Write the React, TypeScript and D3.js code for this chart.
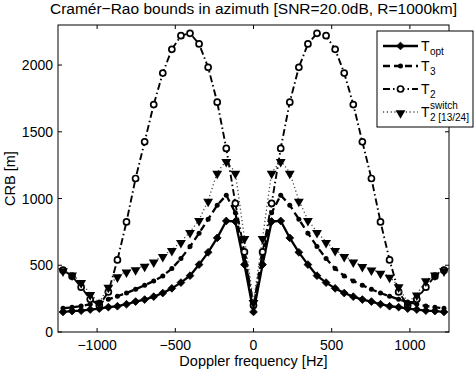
import React from "react";
import * as d3 from "d3";

// Doppler frequencies of the samples [Hz]
const freqs = [
  -1218, -1160, -1102, -1044, -986, -928, -870, -812, -754, -696, -638,
  -580, -522, -464, -406, -348, -290, -232, -174, -116, -58, 0,
  58, 116, 174, 232, 290, 348, 406, 464, 522, 580, 638,
  696, 754, 812, 870, 928, 986, 1044, 1102, 1160, 1218,
];

const tOpt = [
  150, 157, 160, 168, 175, 186, 193, 208, 228, 243, 265,
  292, 327, 370, 422, 505, 597, 705, 832, 828, 505, 150,
  505, 828, 832, 705, 597, 505, 422, 370, 327, 292, 265,
  243, 228, 208, 193, 186, 175, 168, 160, 157, 150,
];

const t3 = [
  178, 185, 195, 208, 225, 245, 268, 292, 320, 350, 382,
  420, 475, 550, 640, 740, 845, 950, 1025, 893, 560, 190,
  560, 893, 1025, 950, 845, 740, 640, 550, 475, 420, 382,
  350, 320, 292, 268, 245, 225, 208, 195, 185, 178,
];

const t2 = [
  463, 418, 336, 245, 200, 300, 540, 825, 1150, 1425, 1704,
  1940, 2118, 2220, 2238, 2158, 1983, 1722, 1375, 963, 600, 200,
  600, 963, 1375, 1722, 1983, 2158, 2238, 2220, 2118, 1940, 1704,
  1425, 1150, 825, 540, 300, 200, 245, 336, 418, 463,
];

const t2Switch = [
  463, 432, 375, 285, 220, 340, 418, 455, 472, 498, 530,
  570, 615, 675, 750, 840, 985, 1195, 1283, 1195, 705, 225,
  705, 1195, 1283, 1195, 985, 840, 750, 675, 615, 570, 530,
  495, 470, 445, 415, 343, 218, 282, 388, 432, 463,
];

const xTicks = [-1000, -500, 0, 500, 1000];
const yTicks = [0, 500, 1000, 1500, 2000];

const W = 474;
const H = 371;
const left = 58;
const right = 449;
const top = 25;
const bottom = 332;

const font = "'Liberation Sans', Arial, Helvetica, sans-serif";

const x = d3.scaleLinear().domain([-1250, 1250]).range([left, right]);
const y = d3.scaleLinear().domain([0, 2300]).range([bottom, top]);

type Series = {
  key: string;
  values: number[];
  dash: string;
  width: number;
  color: string;
  marker: "diamond" | "dot" | "circle" | "triangle";
};

const series: Series[] = [
  { key: "opt", values: tOpt, dash: "none", width: 2.3, color: "#000", marker: "diamond" },
  { key: "t3", values: t3, dash: "7,4", width: 2.3, color: "#000", marker: "dot" },
  { key: "t2", values: t2, dash: "7,3,1.5,3", width: 1.9, color: "#000", marker: "circle" },
  { key: "t2s", values: t2Switch, dash: "1.2,2.6", width: 1.3, color: "#444", marker: "triangle" },
];

const diamondPath = d3.symbol(d3.symbolSquare, 30)() || "";
const triPath = d3.symbol(d3.symbolTriangle, 42)() || "";

function Marker({ kind, cx, cy }: { kind: Series["marker"]; cx: number; cy: number }) {
  if (kind === "diamond")
    return <path d={diamondPath} transform={`translate(${cx},${cy}) rotate(45)`} fill="#000" stroke="#000" strokeWidth={0.8} />;
  if (kind === "dot") return <circle cx={cx} cy={cy} r={2.5} fill="#000" />;
  if (kind === "circle")
    return <circle cx={cx} cy={cy} r={3} fill="#fff" stroke="#000" strokeWidth={1.7} />;
  return <path d={triPath} transform={`translate(${cx},${cy + 1}) rotate(180)`} fill="#000" />;
}

export default function App() {
  const line = d3
    .line<number>()
    .x((_, i) => x(freqs[i]))
    .y((d) => y(d));

  const legendRows = [
    { s: series[0], y: 46, main: "T", sub: "opt", sup: "" },
    { s: series[1], y: 66, main: "T", sub: "3", sup: "" },
    { s: series[2], y: 89, main: "T", sub: "2", sup: "" },
    { s: series[3], y: 112, main: "T", sub: "2 [13/24]", sup: "switch" },
  ];

  return (
    <svg
      width={W}
      height={H}
      style={{ position: "absolute", left: 0, top: 0, background: "#fff" }}
      fontFamily={font}
    >
      <rect x={0} y={0} width={W} height={H} fill="#fff" />
      <defs>
        <clipPath id="plot">
          <rect x={left} y={top} width={right - left} height={bottom - top} />
        </clipPath>
      </defs>

      {/* title */}
      <text x={(left + right) / 2} y={14} textAnchor="middle" fontSize={15.5} fill="#000">
        Cramér−Rao bounds in azimuth [SNR=20.0dB, R=1000km]
      </text>

      {/* axes box */}
      <rect x={left} y={top} width={right - left} height={bottom - top} fill="none" stroke="#000" strokeWidth={1} />

      {xTicks.map((t) => (
        <g key={"x" + t}>
          <line x1={x(t)} x2={x(t)} y1={bottom} y2={bottom - 4} stroke="#000" />
          <line x1={x(t)} x2={x(t)} y1={top} y2={top + 4} stroke="#000" />
          <text x={x(t)} y={350} textAnchor="middle" fontSize={14} fill="#000">
            {t < 0 ? "−" + Math.abs(t) : t}
          </text>
        </g>
      ))}
      {yTicks.map((t) => (
        <g key={"y" + t}>
          <line x1={left} x2={left + 4} y1={y(t)} y2={y(t)} stroke="#000" />
          <line x1={right} x2={right - 4} y1={y(t)} y2={y(t)} stroke="#000" />
          <text x={53} y={y(t) + 5} textAnchor="end" fontSize={14} fill="#000">
            {t}
          </text>
        </g>
      ))}

      <text x={(left + right) / 2} y={366} textAnchor="middle" fontSize={14.5} fill="#000">
        Doppler frequency [Hz]
      </text>
      <text
        transform={`translate(15,${(top + bottom) / 2}) rotate(-90)`}
        textAnchor="middle"
        fontSize={14.5}
        fill="#000"
      >
        CRB [m]
      </text>

      {/* series */}
      <g clipPath="url(#plot)">
        {series.map((s) => (
          <g key={s.key}>
            <path
              d={line(s.values) || ""}
              fill="none"
              stroke={s.color}
              strokeWidth={s.width}
              strokeDasharray={s.dash}
              strokeLinejoin="round"
            />
            {s.values.map((v, i) => (
              <Marker key={i} kind={s.marker} cx={x(freqs[i])} cy={y(v)} />
            ))}
          </g>
        ))}
      </g>

      {/* legend */}
      <rect x={377} y={31} width={96} height={96} fill="#fff" stroke="#000" strokeWidth={1} />
      {legendRows.map((r) => (
        <g key={r.s.key}>
          <line
            x1={383}
            x2={418}
            y1={r.y}
            y2={r.y}
            stroke={r.s.color}
            strokeWidth={r.s.width}
            strokeDasharray={r.s.dash}
          />
          <Marker kind={r.s.marker} cx={400.5} cy={r.y} />
          <text x={421} y={r.y + 5} fontSize={14} fill="#000">
            {r.main}
          </text>
          {r.sup && (
            <text x={430} y={r.y - 3} fontSize={10} fill="#000">
              {r.sup}
            </text>
          )}
          <text x={430} y={r.y + 9} fontSize={10} fill="#000">
            {r.sub}
          </text>
        </g>
      ))}
    </svg>
  );
}
